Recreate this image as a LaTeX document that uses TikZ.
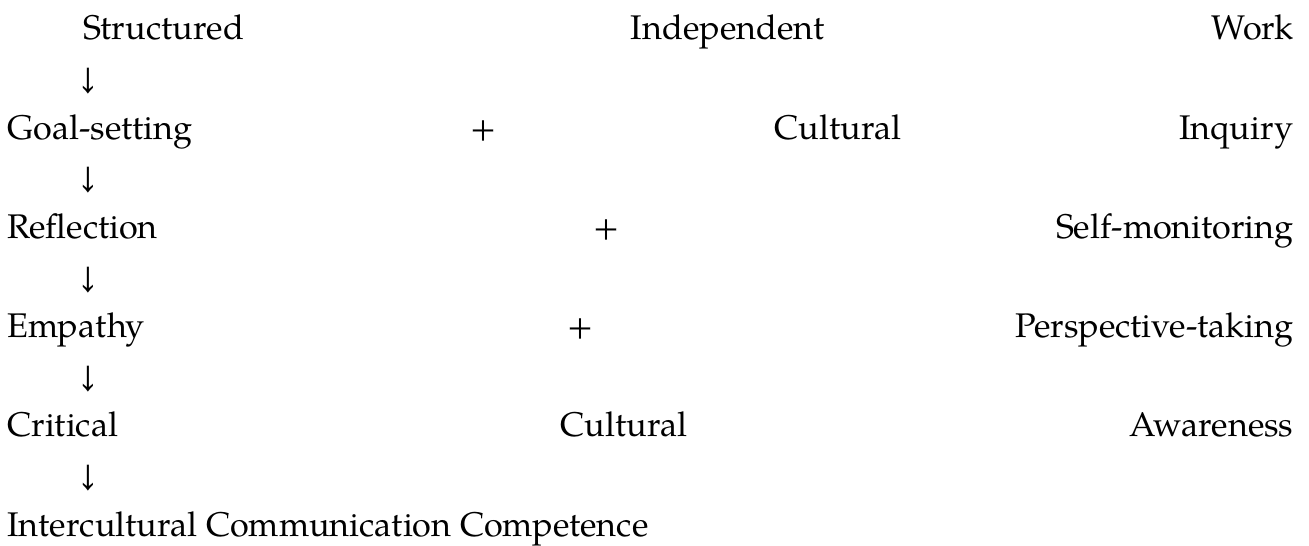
\documentclass[tikz,border=0pt]{standalone}
\usepackage{fontspec}
\setmainfont{texgyrepagella-regular.otf}

\begin{document}
\begin{tikzpicture}[x=0.5pt, y=-0.5pt,
    line/.style={anchor=base west, inner sep=0pt, font=\fontsize{17.1pt}{24.8pt}\selectfont}]
	\useasboundingbox (0,0) rectangle (1309,545);

	% Stages, one justified line each
	\node[line] (work) at (83,40) {\makebox[605pt][s]{Structured Independent Work}};
	\node[line] (inquiry) at (7,139.2) {\makebox[643pt][s]{Goal-setting + Cultural Inquiry}};
	\node[line] (monitor) at (7,238.4) {\makebox[643pt][s]{Reflection + Self-monitoring}};
	\node[line] (empathy) at (7,337.6) {\makebox[643pt][s]{Empathy + Perspective-taking}};
	\node[line] (aware) at (7,436.8) {\makebox[643pt][s]{Critical Cultural Awareness}};
	\node[line] (icc) at (7,536) {Intercultural Communication Competence};

	% Arrows in between
	\foreach \i/\y in {1/89.6, 2/188.8, 3/288, 4/387.2, 5/486.4}
		\node[line] (arrow\i) at (80,\y) {↓};
\end{tikzpicture}
\end{document}
